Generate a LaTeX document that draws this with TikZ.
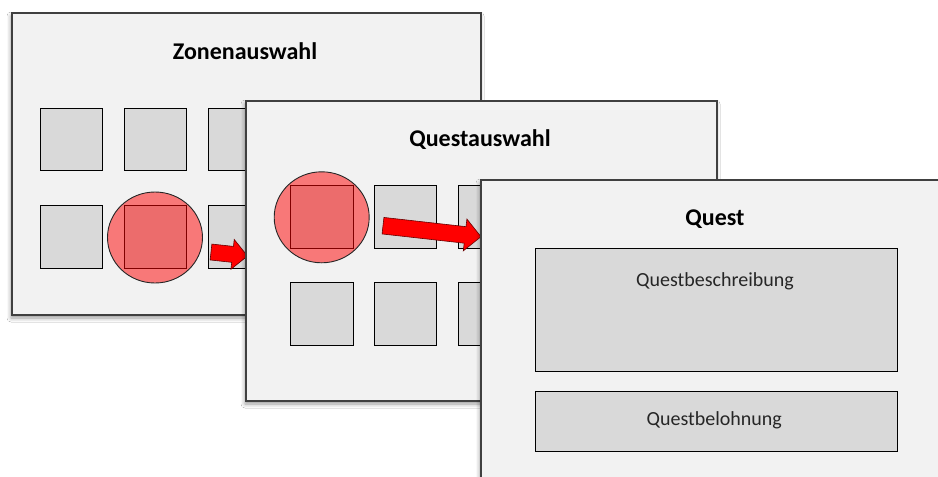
\documentclass[tikz,border=0pt]{standalone}
\usepackage{fontspec}
\setmainfont{Carlito}
\usetikzlibrary{calc,shadows.blur,shapes.geometric}
\definecolor{panelfill}{HTML}{F2F2F2}
\definecolor{panelline}{HTML}{404040}
\definecolor{boxfill}{HTML}{D9D9D9}
\tikzset{
 panel/.style={draw=panelline, line width=1.4pt, fill=panelfill, inner sep=0pt,
   blur shadow={shadow xshift=-1pt, shadow yshift=-3pt, shadow blur radius=4pt, shadow opacity=40}},
 tile/.style={draw=black, line width=0.9pt, fill=boxfill, minimum width=62.5pt, minimum height=62.5pt, inner sep=0pt},
 pick/.style={ellipse, draw=black!85, line width=0.9pt, fill=red, fill opacity=0.5, minimum width=95pt, minimum height=91pt, inner sep=0pt},
 title/.style={font=\bfseries\fontsize{24}{28}\selectfont, anchor=base, inner sep=0pt},
 label/.style={font=\fontsize{20}{24}\selectfont, text=black!85, anchor=base, inner sep=0pt},
 blockarrow/.style={fill=red, draw=black!60!red, line width=0.6pt, line join=miter}
}
\newcommand{\redarrow}[5]{%
 \coordinate (hb) at ($(#2)!#5!(#1)$);
 \draw[blockarrow] ($(#1)!#3!90:(#2)$) -- ($(hb)!#3!90:(#2)$) -- ($(hb)!#4!90:(#2)$) -- (#2)
   -- ($(hb)!#4!-90:(#2)$) -- ($(hb)!#3!-90:(#2)$) -- ($(#1)!#3!-90:(#2)$) -- cycle;}
\begin{document}
\begin{tikzpicture}[x=1pt,y=-1pt]
\clip (0,0) rectangle (938,477);
\fill[white] (0,0) rectangle (938,477);
% Panel 1
\node[panel, minimum width=469pt, minimum height=302pt] (p1) at (246.5,164) {};
\node[title] (t1) at (245,59.3) {Zonenauswahl};
\node[tile] (z11) at (71.5,139.5) {};
\node[tile] (z12) at (155.5,139.5) {};
\node[tile] (z13) at (239.5,139.5) {};
\node[tile] (z21) at (71.5,237) {};
\node[tile] (z22) at (155.5,237) {};
\node[tile] (z23) at (239.5,237) {};
\node[pick] (c1) at (155,237.5) {};
\coordinate (a1s) at (211,252);
\coordinate (a1e) at (247.5,256);
\redarrow{a1s}{a1e}{8pt}{15pt}{15pt}
% Panel 2
\node[panel, minimum width=471pt, minimum height=300pt] (p2) at (481.5,251) {};
\node[title] (t2) at (480,146) {Questauswahl};
\node[tile] (q11) at (321.7,217) {};
\node[tile] (q12) at (405.5,217) {};
\node[tile] (q13) at (489.5,217) {};
\node[tile] (q21) at (321.7,314) {};
\node[tile] (q22) at (405.5,314) {};
\node[tile] (q23) at (489.5,314) {};
\node[pick] (c2) at (321.7,217.3) {};
\coordinate (a2s) at (383,225.7);
\coordinate (a2e) at (481,236.7);
\redarrow{a2s}{a2e}{8.3pt}{16pt}{16pt}
% Panel 3
\node[panel, minimum width=470pt, minimum height=300pt] (p3) at (716,330) {};
\node[title] (t3) at (715,225.7) {Quest};
\node[draw=black, line width=0.9pt, fill=boxfill, minimum width=362pt, minimum height=123pt, inner sep=0pt] (desc) at (716,309.7) {};
\node[label] at (715,286) {Questbeschreibung};
\node[draw=black, line width=0.9pt, fill=boxfill, minimum width=362pt, minimum height=60pt, inner sep=0pt] (rew) at (716,421.3) {};
\node[label] at (714.3,425.7) {Questbelohnung};
\end{tikzpicture}
\end{document}
